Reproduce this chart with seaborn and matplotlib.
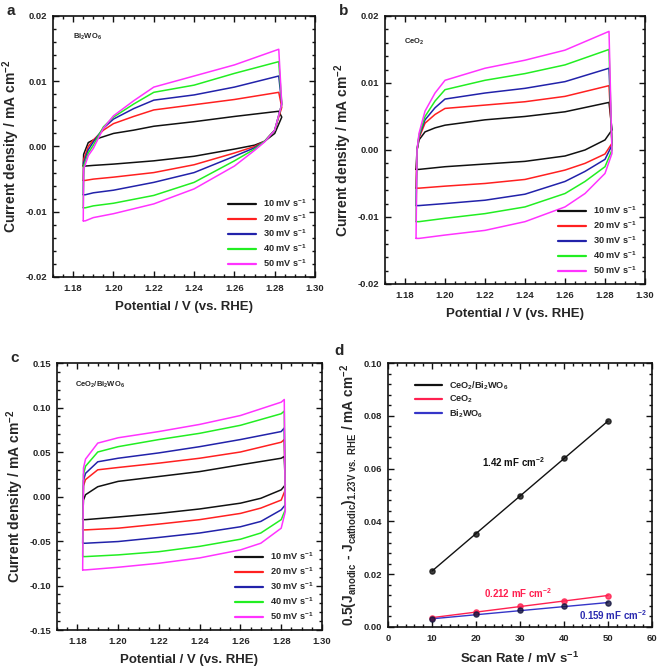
import pandas as pd
import matplotlib
matplotlib.use("Agg")
import matplotlib.pyplot as plt
import seaborn as sns
from matplotlib.ticker import MultipleLocator, FormatStrFormatter

# scan rates and colours of the CV loops
rates = [10, 20, 30, 40, 50]
rate_labels = [f"{r} mV s$^{{-1}}$" for r in rates]
cv_colors = ["#111111", "#ff2020", "#2222aa", "#22ee22", "#ff33ff"]

# a) Bi2WO6 : anodic (forward) and cathodic (reverse) branches, mA cm-2
bi_E_up = [1.185, 1.1852, 1.1875, 1.19, 1.195, 1.20, 1.21, 1.22, 1.24, 1.26, 1.282]
bi_up = [
    [-0.0030, -0.0012, 0.0006, 0.0010, 0.0015, 0.0020, 0.0025, 0.0031, 0.0038, 0.0046, 0.0054],
    [-0.0052, -0.0020, 0.0000, 0.0010, 0.0025, 0.0035, 0.0046, 0.0056, 0.0064, 0.0072, 0.0083],
    [-0.0074, -0.0025, -0.0005, 0.0007, 0.0028, 0.0042, 0.0058, 0.0071, 0.0079, 0.0091, 0.0108],
    [-0.0094, -0.0030, -0.0010, 0.0002, 0.0030, 0.0045, 0.0065, 0.0083, 0.0094, 0.0112, 0.0130],
    [-0.0114, -0.0035, -0.0014, -0.0003, 0.0028, 0.0047, 0.0070, 0.0091, 0.0108, 0.0125, 0.0149],
]
bi_E_down = [1.2835, 1.28, 1.275, 1.27, 1.26, 1.24, 1.22, 1.20, 1.19, 1.186]
bi_down = [
    [0.0045, 0.0020, 0.0008, 0.0002, -0.0004, -0.0015, -0.0022, -0.0027, -0.0029, -0.0030],
    [0.0060, 0.0025, 0.0008, 0.0000, -0.0010, -0.0028, -0.0040, -0.0047, -0.0050, -0.0052],
    [0.0065, 0.0025, 0.0008, -0.0002, -0.0015, -0.0040, -0.0055, -0.0067, -0.0071, -0.0074],
    [0.0065, 0.0025, 0.0008, -0.0004, -0.0022, -0.0055, -0.0075, -0.0087, -0.0091, -0.0094],
    [0.0065, 0.0025, 0.0007, -0.0006, -0.0030, -0.0065, -0.0088, -0.0103, -0.0109, -0.0114],
]

# b) CeO2
ce_E_up = [1.1855, 1.186, 1.187, 1.19, 1.195, 1.20, 1.22, 1.24, 1.26, 1.282]
ce_up = [
    [-0.0029, 0.0000, 0.0015, 0.0027, 0.0033, 0.0037, 0.0045, 0.0050, 0.0057, 0.0071],
    [-0.0057, 0.0000, 0.0018, 0.0040, 0.0053, 0.0062, 0.0067, 0.0072, 0.0080, 0.0096],
    [-0.0083, 0.0000, 0.0020, 0.0045, 0.0063, 0.0076, 0.0085, 0.0092, 0.0102, 0.0122],
    [-0.0107, 0.0000, 0.0022, 0.0050, 0.0073, 0.0090, 0.0104, 0.0114, 0.0127, 0.0150],
    [-0.0132, 0.0000, 0.0025, 0.0058, 0.0085, 0.0104, 0.0122, 0.0134, 0.0149, 0.0177],
]
ce_E_down = [1.2835, 1.28, 1.27, 1.26, 1.24, 1.22, 1.20, 1.187]
ce_down = [
    [0.0030, 0.0015, 0.0000, -0.0009, -0.0017, -0.0021, -0.0025, -0.0029],
    [0.0010, -0.0006, -0.0020, -0.0030, -0.0044, -0.0050, -0.0054, -0.0057],
    [0.0007, -0.0014, -0.0032, -0.0047, -0.0066, -0.0075, -0.0080, -0.0083],
    [0.0000, -0.0025, -0.0047, -0.0065, -0.0085, -0.0095, -0.0102, -0.0107],
    [-0.0005, -0.0035, -0.0065, -0.0085, -0.0107, -0.0120, -0.0127, -0.0132],
]

# c) CeO2/Bi2WO6
cb_E_up = [1.1826, 1.183, 1.184, 1.19, 1.20, 1.22, 1.24, 1.26, 1.28, 1.2815]
cb_up = [
    [-0.026, -0.004, 0.002, 0.011, 0.017, 0.0225, 0.028, 0.0356, 0.043, 0.045],
    [-0.0375, 0.012, 0.019, 0.030, 0.0326, 0.0375, 0.043, 0.050, 0.061, 0.064],
    [-0.0525, 0.018, 0.026, 0.039, 0.043, 0.049, 0.056, 0.064, 0.073, 0.077],
    [-0.0675, 0.025, 0.034, 0.050, 0.056, 0.064, 0.071, 0.080, 0.093, 0.096],
    [-0.0825, 0.032, 0.042, 0.060, 0.066, 0.073, 0.081, 0.091, 0.106, 0.109],
]
cb_E_down = [1.282, 1.28, 1.27, 1.26, 1.24, 1.22, 1.20, 1.184]
cb_down = [
    [0.013, 0.0075, -0.002, -0.0075, -0.014, -0.019, -0.023, -0.026],
    [0.0075, -0.004, -0.013, -0.019, -0.026, -0.031, -0.0356, -0.0375],
    [-0.0094, -0.015, -0.028, -0.034, -0.041, -0.046, -0.0506, -0.0525],
    [-0.015, -0.026, -0.041, -0.048, -0.056, -0.062, -0.0656, -0.0675],
    [-0.017, -0.0356, -0.0525, -0.060, -0.069, -0.075, -0.0795, -0.0825],
]

# d) half current-density difference at 1.23 V vs scan rate
scan_rate = [10, 20, 30, 40, 50]
dj_composite = [0.0213, 0.0352, 0.0496, 0.0639, 0.0780]
dj_ceo2 = [0.0035, 0.0056, 0.0078, 0.0100, 0.0118]
dj_bwo = [0.0029, 0.0048, 0.0063, 0.0078, 0.0091]
d_names = ["CeO$_2$/Bi$_2$WO$_6$", "CeO$_2$", "Bi$_2$WO$_6$"]
d_notes = ["1.42 mF cm$^{-2}$", "0.212 mF cm$^{-2}$", "0.159 mF cm$^{-2}$"]

sns.set_style("ticks")
plt.rcParams["font.family"] = ["Liberation Sans", "DejaVu Sans"]
plt.rcParams["font.weight"] = "bold"
plt.rcParams["axes.labelweight"] = "bold"
plt.rcParams["mathtext.fontset"] = "custom"
plt.rcParams["mathtext.rm"] = "Liberation Sans:bold"
plt.rcParams["mathtext.it"] = "Liberation Sans:bold"
plt.rcParams["mathtext.bf"] = "Liberation Sans:bold"
plt.rcParams["mathtext.default"] = "rm"
plt.rcParams["axes.unicode_minus"] = False


def cv_frame(E_up, up, E_down, down):
    parts = []
    for label, yu, yd in zip(rate_labels, up, down):
        E = list(E_up) + list(E_down) + [E_up[0]]
        J = list(yu) + list(yd) + [yu[0]]
        parts.append(pd.DataFrame({"E": E, "J": J, "rate": label}))
    return pd.concat(parts, ignore_index=True)


def style_axes(ax, xmaj, xmin, ymaj, ymin, xfmt, yfmt):
    ax.xaxis.set_major_locator(MultipleLocator(xmaj))
    ax.xaxis.set_minor_locator(MultipleLocator(xmin))
    ax.yaxis.set_major_locator(MultipleLocator(ymaj))
    ax.yaxis.set_minor_locator(MultipleLocator(ymin))
    ax.xaxis.set_major_formatter(FormatStrFormatter(xfmt))
    ax.yaxis.set_major_formatter(FormatStrFormatter(yfmt))
    ax.tick_params(which="both", direction="in", top=True, right=True,
                   labelsize=6.8, width=1.0, color="#111111")
    ax.tick_params(which="major", length=4.5)
    ax.tick_params(which="minor", length=2.5)
    ax.tick_params(axis="x", which="major", pad=5)
    ax.tick_params(axis="y", which="major", pad=4)
    for s in ax.spines.values():
        s.set_linewidth(1.2)
        s.set_color("#111111")


fig = plt.figure(figsize=(6.61, 6.71), dpi=100)

cv_panels = [
    ("a", [0.0802, 0.5872, 0.3964, 0.3890], bi_E_up, bi_up, bi_E_down, bi_down,
     (-0.02, 0.02), 0.01, 0.002, "Bi$_2$WO$_6$", (0.076, 0.92)),
    ("b", [0.5825, 0.5768, 0.3933, 0.3994], ce_E_up, ce_up, ce_E_down, ce_down,
     (-0.02, 0.02), 0.01, 0.002, "CeO$_2$", (0.073, 0.905)),
    ("c", [0.0862, 0.0611, 0.4009, 0.3979], cb_E_up, cb_up, cb_E_down, cb_down,
     (-0.15, 0.15), 0.05, 0.01, "CeO$_2$/Bi$_2$WO$_6$", (0.068, 0.918)),
]

for letter, rect, Eu, up, Ed, down, ylim, ymaj, ymin, name, npos in cv_panels:
    ax = fig.add_axes(rect)
    df = cv_frame(Eu, up, Ed, down)
    sns.lineplot(data=df, x="E", y="J", hue="rate", palette=cv_colors,
                 sort=False, estimator=None, lw=1.1, ax=ax)
    ax.set_xlim(1.17, 1.30)
    ax.set_ylim(*ylim)
    style_axes(ax, 0.02, 0.005, ymaj, ymin, "%.2f", "%.2f")
    ax.set_xlabel("Potential / V (vs. RHE)", fontsize=9.5, labelpad=6)
    ax.set_ylabel("Current density / mA cm$^{-2}$", fontsize=10, labelpad=3)
    leg = ax.legend(loc="lower right", bbox_to_anchor=(0.99, 0.01), frameon=False,
                    fontsize=6.6, handlelength=3.0, handletextpad=0.8,
                    labelspacing=0.35, borderaxespad=0.2)
    for h in leg.get_lines():
        h.set_linewidth(1.6)
    ax.text(npos[0], npos[1], name, transform=ax.transAxes, fontsize=5.5,
            fontweight="bold", va="center", ha="left")
    fig.text(rect[0] - 0.07, rect[1] + rect[3] + 0.008, letter, fontsize=11,
             fontweight="bold", va="center", ha="left")

# d) capacitance plot
axd = fig.add_axes([0.5870, 0.0656, 0.3994, 0.3934])
series = [
    (dj_composite, "#111111", "#111111"),
    (dj_ceo2, "#ff2050", "#ff2050"),
    (dj_bwo, "#3535c8", "#151540"),
]
for (vals, lc, mc), nm in zip(series, d_names):
    sns.regplot(x=scan_rate, y=vals, ci=None, ax=axd,
                scatter_kws=dict(s=14, color=mc, zorder=3),
                line_kws=dict(lw=1.0, color=lc, label=nm))
axd.set_xlim(0, 60)
axd.set_ylim(0, 0.10)
style_axes(axd, 10, 2, 0.02, 0.004, "%d", "%.2f")
axd.set_xlabel("Scan Rate / mV s$^{-1}$", fontsize=9.5, labelpad=6)
axd.set_ylabel("0.5(J$_{anodic}$ - J$_{cathodic}$)$_{1.23V\\ vs.\\ RHE}$ / mA cm$^{-2}$",
               fontsize=9.8, labelpad=3)
legd = axd.legend(handles=axd.lines[:3], loc="upper left", bbox_to_anchor=(0.08, 0.96),
                  frameon=False, fontsize=6.6, handlelength=3.0, handletextpad=0.8,
                  labelspacing=0.25, borderaxespad=0.2)
for h in legd.get_lines():
    h.set_linewidth(1.6)
axd.text(21.3, 0.0623, d_notes[0], fontsize=7, fontweight="bold", color="#111111",
         va="center", ha="left")
axd.text(21.8, 0.0130, d_notes[1], fontsize=7, fontweight="bold", color="#ff2050",
         va="center", ha="left")
axd.text(43.3, 0.0044, d_notes[2], fontsize=7, fontweight="bold", color="#2a2ab0",
         va="center", ha="left")
fig.text(0.506, 0.4775, "d", fontsize=11, fontweight="bold", va="center", ha="left")

fig.savefig("out.png", dpi=100, facecolor="white")
